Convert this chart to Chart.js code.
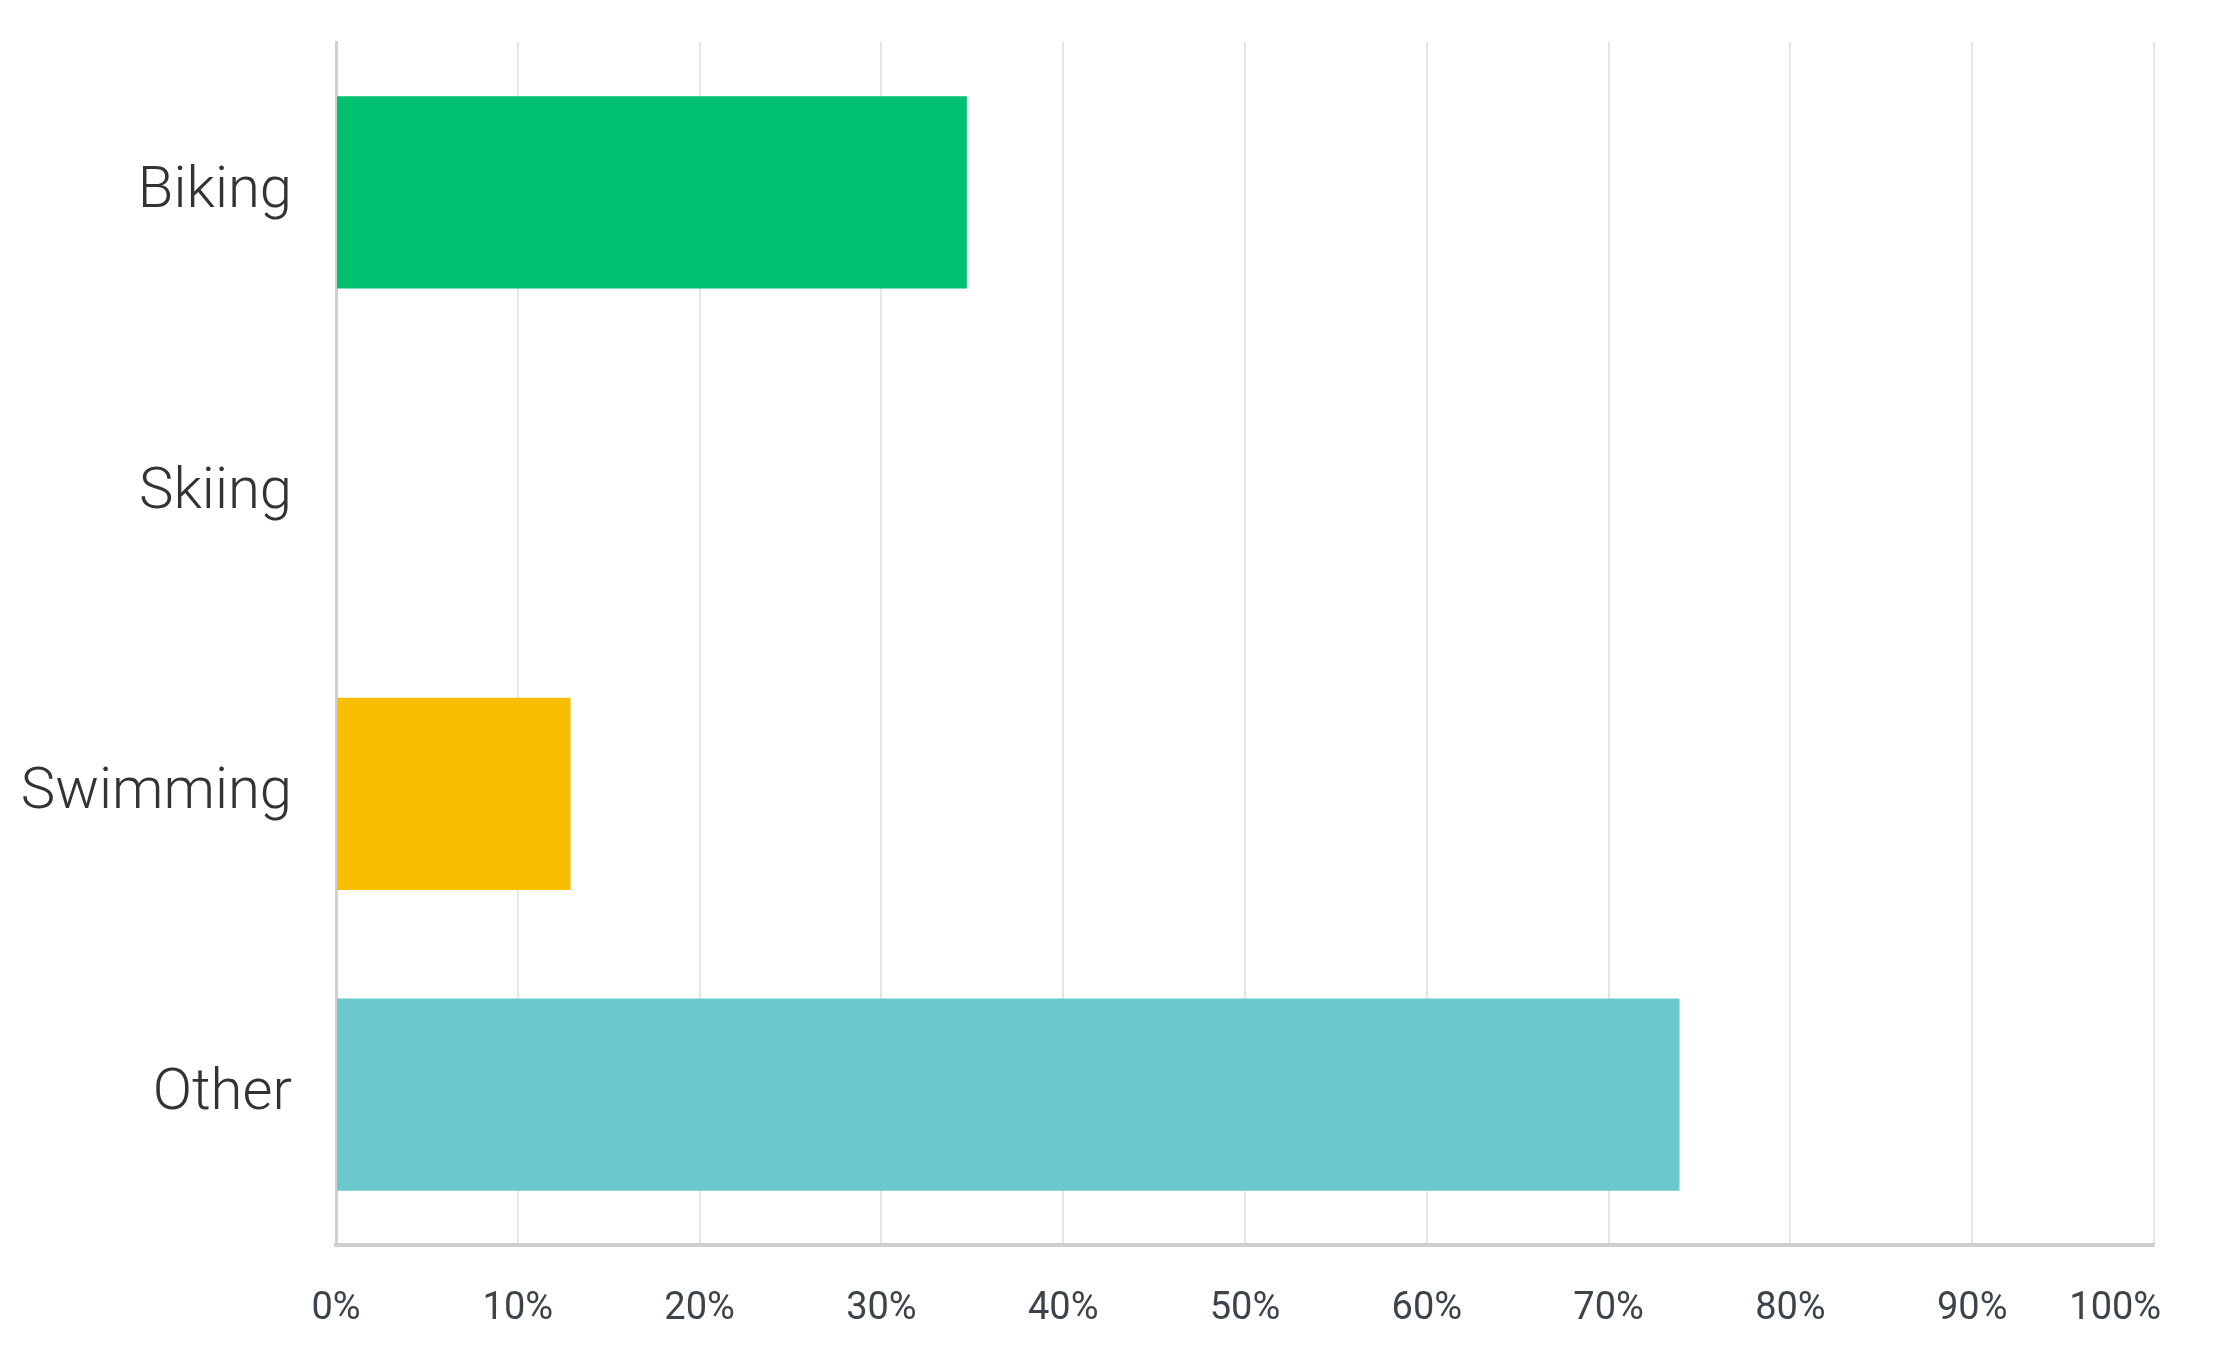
<!DOCTYPE html>
<html>
<head>
<meta charset="utf-8">
<script src="https://cdn.jsdelivr.net/npm/chart.js@4/dist/chart.umd.min.js"></script>
<style>
  html, body { margin: 0; padding: 0; background: #fff; }
  #wrap { width: 2218px; height: 1356px; position: relative; }
</style>
</head>
<body>
<div id="wrap"><canvas id="sportChart"></canvas></div>
<script>
// Data
const categories = ['Biking', 'Skiing', 'Swimming', 'Other'];
const percentages = [34.7, 0, 12.9, 73.9];
const barColors = ['#00bf6f', '#f9be00', '#f9be00', '#6bc8cd'];
const tickValues = [0, 10, 20, 30, 40, 50, 60, 70, 80, 90, 100];

const ctx = document.getElementById('sportChart');

new Chart(ctx, {
    type: 'bar',
    data: {
        labels: categories,
        datasets: [{
            data: percentages,
            backgroundColor: barColors,
            borderWidth: 0,
            barPercentage: 0.8,
            categoryPercentage: 0.8
        }]
    },
    options: {
        indexAxis: 'y',
        responsive: true,
        maintainAspectRatio: false,
        animation: false,
        layout: {
            padding: { top: 42, right: 64, left: 0, bottom: 0 }
        },
        plugins: {
            legend: { display: false },
            tooltip: { enabled: false }
        },
        scales: {
            x: {
                min: 0,
                max: 100,
                afterBuildTicks: function(scale) {
                    scale.ticks = tickValues.map(v => ({ value: v }));
                },
                afterFit: function(scale) {
                    scale.height = 111;
                    scale.paddingLeft = 0;
                    scale.paddingRight = 0;
                },
                grid: {
                    color: '#e6e6e6',
                    lineWidth: 2,
                    drawTicks: false
                },
                border: {
                    color: '#cfcfcf',
                    width: 4
                },
                ticks: {
                    padding: 42,
                    color: '#3d434a',
                    font: { family: 'Roboto, sans-serif', size: 38 },
                    callback: function(value) {
                        // last label sits inside the plot edge
                        return value === 100 ? '100%\u2003\u2003' : value + '%';
                    }
                }
            },
            y: {
                afterFit: function(scale) {
                    scale.width = 336;
                    scale.paddingTop = 0;
                    scale.paddingBottom = 0;
                },
                grid: {
                    display: false,
                    drawTicks: false
                },
                border: {
                    color: '#d0d0d0',
                    width: 3
                },
                ticks: {
                    padding: 44,
                    color: '#333333',
                    font: { family: 'Roboto, sans-serif', size: 58, weight: '300' }
                }
            }
        }
    }
});
</script>
</body>
</html>
